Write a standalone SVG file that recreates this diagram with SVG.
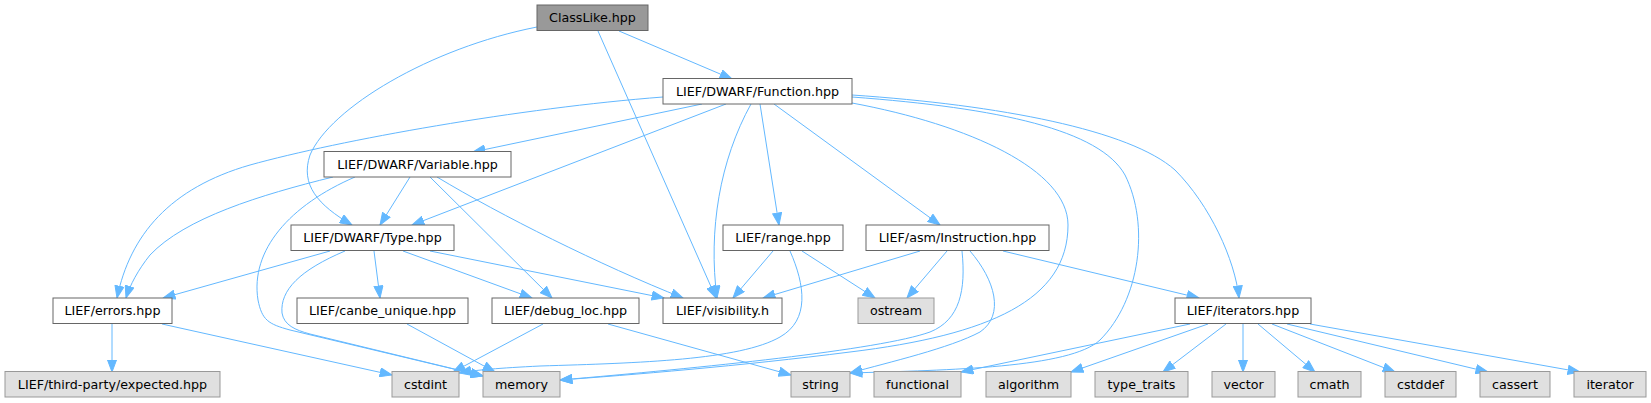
<svg xmlns="http://www.w3.org/2000/svg" width="1651" height="403" viewBox="0 0 1651 403">
<style>
.n rect{fill:#ffffff;stroke:#666666;stroke-width:1}
.root rect{fill:#999999;stroke:#666666;stroke-width:1}
.ext rect{fill:#e0e0e0;stroke:#999999;stroke-width:1}
text{font-family:"DejaVu Sans","Liberation Sans",sans-serif;font-size:12.7px;fill:#000000;text-anchor:middle}
#edges path{fill:none;stroke:#63b8ff;stroke-width:1;marker-end:url(#arr)}
</style>
<defs>
<marker id="arr" markerUnits="userSpaceOnUse" markerWidth="13" markerHeight="10" refX="12.5" refY="5" orient="auto">
<path d="M0.5,0.5 L12.5,5 L0.5,9.5 z" fill="#63b8ff" stroke="#63b8ff" stroke-width="1"/>
</marker>
</defs>
<rect width="1651" height="403" fill="#ffffff"/>
<g id="edges">
<path d="M619,31 L732,79"/>
<path d="M598,31 L716,298"/>
<path d="M537,27 C430,48 330,108 310,155 C300,185 318,205 352,225"/>
<path d="M702,104 L473,152"/>
<path d="M663,97 C520,108 340,140 250,165 C170,188 130,235 117,298"/>
<path d="M726,104 L412,225"/>
<path d="M751,104 C720,160 708,230 717,298"/>
<path d="M760,104 L779,225"/>
<path d="M774,104 L940,225"/>
<path d="M852,103 C970,125 1068,170 1068,225 C1068,300 990,335 850,352 C740,366 630,375 560,380"/>
<path d="M852,97 C1000,108 1100,130 1125,175 C1150,225 1140,300 1100,340 C1070,368 950,370 850,373"/>
<path d="M852,95 C1000,105 1130,130 1175,170 C1210,205 1235,260 1239,298"/>
<path d="M333,177 C260,195 185,218 150,255 C138,270 130,285 126,298"/>
<path d="M355,177 C290,205 250,250 258,300 C262,320 268,324 290,330 L483,376"/>
<path d="M410,177 L380,225"/>
<path d="M430,177 L552,298"/>
<path d="M437,177 C500,215 600,265 683,298"/>
<path d="M330,251 L163,298"/>
<path d="M345,251 C300,270 280,290 282,313 C284,325 295,330 310,334 L483,376"/>
<path d="M374,251 L380,298"/>
<path d="M403,251 L532,298"/>
<path d="M430,251 L664,298"/>
<path d="M773,251 L733,298"/>
<path d="M802,251 L875,298"/>
<path d="M790,251 C805,285 810,320 780,337 C740,360 640,363 540,366 C500,368 475,370 459,373"/>
<path d="M920,251 L763,298"/>
<path d="M947,251 L907,298"/>
<path d="M962,251 C966,290 960,320 930,332 C880,350 700,368 560,380"/>
<path d="M970,251 C995,280 1005,315 980,332 C950,348 890,362 850,373"/>
<path d="M1003,251 L1199,298"/>
<path d="M112,324 L112,372"/>
<path d="M162,324 L392,375"/>
<path d="M407,324 L495,372"/>
<path d="M543,324 L453,372"/>
<path d="M608,324 L791,375"/>
<path d="M1190,324 L961,372"/>
<path d="M1208,324 L1071,372"/>
<path d="M1226,324 L1163,372"/>
<path d="M1243,324 L1243,372"/>
<path d="M1258,324 L1315,372"/>
<path d="M1272,324 L1395,372"/>
<path d="M1287,324 L1488,372"/>
<path d="M1310,324 L1580,372"/>
</g>
<g id="n_classlike" class="root"><rect x="537" y="5" width="111" height="25.5"/><text x="592.5" y="21.5">ClassLike.hpp</text></g>
<g id="n_function" class="n"><rect x="663" y="78.5" width="189" height="25.5"/><text x="757.5" y="95.5">LIEF/DWARF/Function.hpp</text></g>
<g id="n_variable" class="n"><rect x="324" y="151.5" width="187" height="25.5"/><text x="417.5" y="168.5">LIEF/DWARF/Variable.hpp</text></g>
<g id="n_type" class="n"><rect x="291" y="225" width="163" height="25.5"/><text x="372.5" y="241.5">LIEF/DWARF/Type.hpp</text></g>
<g id="n_range" class="n"><rect x="723" y="225" width="120" height="25.5"/><text x="783" y="241.5">LIEF/range.hpp</text></g>
<g id="n_instruction" class="n"><rect x="866" y="225" width="183" height="25.5"/><text x="957.5" y="241.5">LIEF/asm/Instruction.hpp</text></g>
<g id="n_errors" class="n"><rect x="53" y="298" width="119" height="25.5"/><text x="112.5" y="314.5">LIEF/errors.hpp</text></g>
<g id="n_canbe" class="n"><rect x="297" y="298" width="171" height="25.5"/><text x="382.5" y="314.5">LIEF/canbe_unique.hpp</text></g>
<g id="n_debugloc" class="n"><rect x="492" y="298" width="147" height="25.5"/><text x="565.5" y="314.5">LIEF/debug_loc.hpp</text></g>
<g id="n_visibility" class="n"><rect x="663" y="298" width="119" height="25.5"/><text x="722.5" y="314.5">LIEF/visibility.h</text></g>
<g id="n_ostream" class="ext"><rect x="858" y="298" width="76" height="25.5"/><text x="896" y="314.5">ostream</text></g>
<g id="n_iterators" class="n"><rect x="1175" y="298" width="136" height="25.5"/><text x="1243" y="314.5">LIEF/iterators.hpp</text></g>
<g id="n_expected" class="ext"><rect x="5" y="371.5" width="215" height="25.5"/><text x="112.5" y="388.5">LIEF/third-party/expected.hpp</text></g>
<g id="n_cstdint" class="ext"><rect x="392" y="371.5" width="67" height="25.5"/><text x="425.5" y="388.5">cstdint</text></g>
<g id="n_memory" class="ext"><rect x="483" y="371.5" width="77" height="25.5"/><text x="521.5" y="388.5">memory</text></g>
<g id="n_string" class="ext"><rect x="791" y="371.5" width="59" height="25.5"/><text x="820.5" y="388.5">string</text></g>
<g id="n_functional" class="ext"><rect x="874" y="371.5" width="87" height="25.5"/><text x="917.5" y="388.5">functional</text></g>
<g id="n_algorithm" class="ext"><rect x="986" y="371.5" width="85" height="25.5"/><text x="1028.5" y="388.5">algorithm</text></g>
<g id="n_typetraits" class="ext"><rect x="1095" y="371.5" width="93" height="25.5"/><text x="1141.5" y="388.5">type_traits</text></g>
<g id="n_vector" class="ext"><rect x="1212" y="371.5" width="63" height="25.5"/><text x="1243.5" y="388.5">vector</text></g>
<g id="n_cmath" class="ext"><rect x="1298" y="371.5" width="63" height="25.5"/><text x="1329.5" y="388.5">cmath</text></g>
<g id="n_cstddef" class="ext"><rect x="1385" y="371.5" width="71" height="25.5"/><text x="1420.5" y="388.5">cstddef</text></g>
<g id="n_cassert" class="ext"><rect x="1480" y="371.5" width="70" height="25.5"/><text x="1515" y="388.5">cassert</text></g>
<g id="n_iterator" class="ext"><rect x="1574" y="371.5" width="72" height="25.5"/><text x="1610" y="388.5">iterator</text></g>
</svg>
